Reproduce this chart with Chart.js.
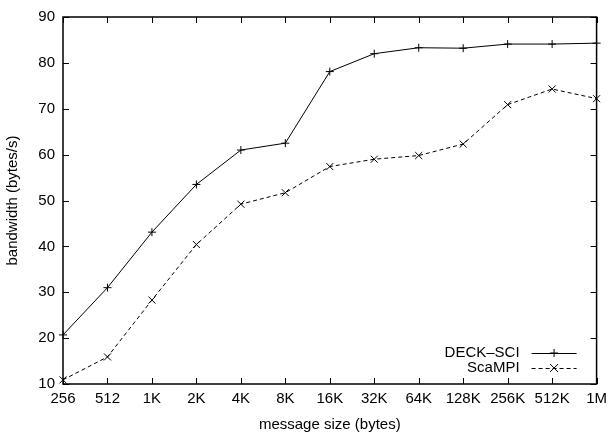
<!DOCTYPE html>
<html>
<head>
<meta charset="utf-8">
<script src="https://cdn.jsdelivr.net/npm/chart.js@4"></script>
<style>
  html, body { margin: 0; padding: 0; background: #fff; }
  #wrap { width: 613px; height: 439px; }
</style>
</head>
<body>
<div id="wrap"><canvas id="bw"></canvas></div>
<script>
/* ==================== Data ==================== */
const sizes = ['256', '512', '1K', '2K', '4K', '8K', '16K', '32K', '64K', '128K', '256K', '512K', '1M'];
const deckSci = [20.7, 31.0, 43.1, 53.5, 61.0, 62.5, 78.1, 82.0, 83.3, 83.2, 84.1, 84.1, 84.3];
const scaMpi = [10.9, 15.9, 28.3, 40.4, 49.2, 51.7, 57.4, 59.0, 59.8, 62.3, 70.9, 74.3, 72.2];
const yTicks = [10, 20, 30, 40, 50, 60, 70, 80, 90];

const FONT = { family: '"Liberation Sans", Arial, sans-serif', size: 15 };

/* ==================== Frame, inward ticks, legend ==================== */
const gnuplotFrame = {
    id: 'gnuplotFrame',
    afterDraw(chart) {
        const { ctx, chartArea: a, scales } = chart;
        const tick = 6;
        ctx.save();
        ctx.strokeStyle = '#000';
        ctx.lineWidth = 1;

        // ticks on all four sides
        ctx.beginPath();
        scales.x.ticks.forEach((t, i) => {
            const px = Math.round(scales.x.getPixelForTick(i)) + 0.5;
            ctx.moveTo(px, a.bottom); ctx.lineTo(px, a.bottom - tick);
            ctx.moveTo(px, a.top); ctx.lineTo(px, a.top + tick);
        });
        scales.y.ticks.forEach((t, i) => {
            const py = Math.round(scales.y.getPixelForTick(i)) + 0.5;
            ctx.moveTo(a.left, py); ctx.lineTo(a.left + tick, py);
            ctx.moveTo(a.right, py); ctx.lineTo(a.right - tick, py);
        });
        ctx.stroke();

        // border
        ctx.lineWidth = 1.5;
        ctx.strokeRect(a.left, a.top, a.right - a.left, a.bottom - a.top);

        // legend, bottom right inside the plot
        ctx.font = `${FONT.size}px ${FONT.family}`;
        ctx.textAlign = 'right';
        ctx.textBaseline = 'middle';
        ctx.fillStyle = '#000';
        const x1 = a.right - 65, x2 = a.right - 20;
        chart.data.datasets.forEach((ds, i) => {
            const y = a.bottom - 31 + i * 15;
            ctx.fillText(ds.label, x1 - 12, y);
            ctx.lineWidth = 1;
            ctx.setLineDash(ds.borderDash || []);
            ctx.beginPath();
            ctx.moveTo(x1, y + 0.5); ctx.lineTo(x2, y + 0.5);
            ctx.stroke();
            ctx.setLineDash([]);
            const cx = (x1 + x2) / 2, r = 4;
            ctx.beginPath();
            if (ds.pointStyle === 'cross') {
                ctx.moveTo(cx - r, y); ctx.lineTo(cx + r, y);
                ctx.moveTo(cx, y - r); ctx.lineTo(cx, y + r);
            } else {
                ctx.moveTo(cx - r, y - r); ctx.lineTo(cx + r, y + r);
                ctx.moveTo(cx - r, y + r); ctx.lineTo(cx + r, y - r);
            }
            ctx.stroke();
        });
        ctx.restore();
    }
};

/* ==================== Chart ==================== */
new Chart(document.getElementById('bw'), {
    type: 'line',
    data: {
        labels: sizes,
        datasets: [{
            label: 'DECK\u2013SCI',
            data: deckSci,
            borderColor: '#000',
            borderWidth: 1,
            pointStyle: 'cross',
            pointRadius: 4,
            pointBorderColor: '#000',
            pointBorderWidth: 1,
            tension: 0
        }, {
            label: 'ScaMPI',
            data: scaMpi,
            borderColor: '#000',
            borderWidth: 1,
            borderDash: [4, 3],
            pointStyle: 'crossRot',
            pointRadius: 5,
            pointBorderColor: '#000',
            pointBorderWidth: 1,
            tension: 0
        }]
    },
    options: {
        responsive: true,
        maintainAspectRatio: false,
        animation: false,
        layout: { padding: { top: 14, right: 11, left: 4, bottom: 5 } },
        plugins: {
            legend: { display: false },
            tooltip: { enabled: false }
        },
        scales: {
            x: {
                type: 'category',
                offset: false,
                grid: { display: false, drawTicks: false },
                border: { display: false },
                ticks: { color: '#000', font: FONT, padding: 6, maxRotation: 0, autoSkip: false },
                title: { display: true, text: 'message size (bytes)', color: '#000', font: FONT, padding: { top: 4, bottom: 0 } },
                afterFit(scale) { scale.height = 50; }
            },
            y: {
                min: 10,
                max: 90,
                afterBuildTicks(scale) { scale.ticks = yTicks.map(v => ({ value: v })); },
                grid: { display: false, drawTicks: false },
                border: { display: false },
                ticks: { color: '#000', font: FONT, padding: 8 },
                title: { display: true, text: 'bandwidth (bytes/s)', color: '#000', font: FONT, padding: { top: 0, bottom: 0 } },
                afterFit(scale) { scale.width = 59; }
            }
        }
    },
    plugins: [gnuplotFrame]
});
</script>
</body>
</html>
